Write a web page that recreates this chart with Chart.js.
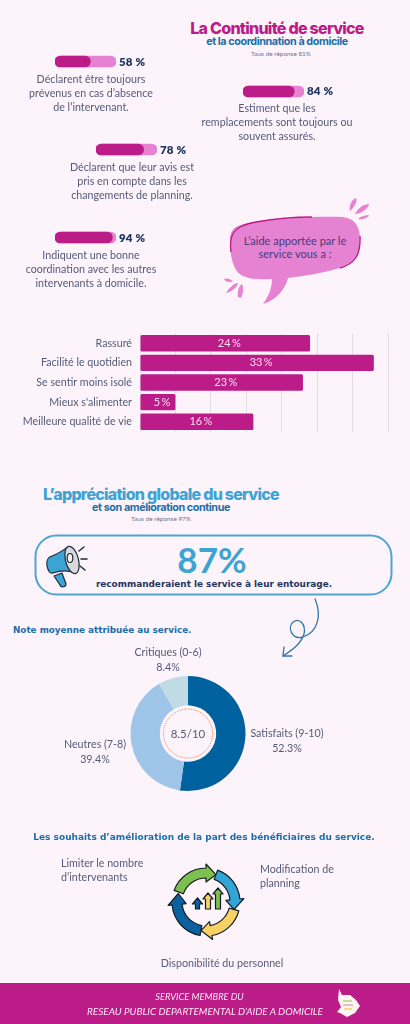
<!DOCTYPE html>
<html lang="fr"><head><meta charset="utf-8">
<script src="https://cdn.jsdelivr.net/npm/chart.js@4"></script>
<style>
html,body{margin:0;padding:0;background:#fdf3fb;}
#page{position:relative;width:410px;height:1024px;overflow:hidden;background:#fdf3fb;font-family:Lato,sans-serif;color:#3f4a6b;}
.t{position:absolute;white-space:nowrap;text-align:center;transform:translateX(-50%);}
.l{position:absolute;white-space:nowrap;}
.body{font-size:10.7px;line-height:14px;color:#535b79;}
.pct{position:absolute;font-weight:800;font-size:11.5px;color:#1d3560;letter-spacing:.2px;}
.cv{position:absolute;}
svg{position:absolute;left:0;top:0;}
</style></head><body><div id="page">
<svg id="deco" width="410" height="1024" viewBox="0 0 410 1024">
 <!-- speech bubble -->
 <path d="M230 240 C230 226 240 224 256 222 C285 218 320 216 342 217 C354 218 360 225 360 240 C360 258 354 264 340 268 C322 273 305 276 288 278 C285 290 276 300 263 304 C269 296 272 287 272 279 C255 280 240 279 235 268 C231 260 230 250 230 240Z" fill="#e582d2"/>
 <path d="M231 252 C229 236 232 226 256 222 C280 218 300 217 312 217 M360 236 C361 256 354 264 340 268" fill="none" stroke="#bc1c88" stroke-width="1.3"/>
 <path d="M350 211 C349 205 352 199 356 198 C358 201 354 208 350 211Z M355 214 C358 208 364 204 369 204 C369 208 361 214 355 214Z M358 219 C361 216 366 215 369 215 C368 218 362 220 358 219Z M233 281 C229 278 226 278 224 279 C225 282 230 283 233 281Z M226 293 C229 288 234 283 238 283 C238 286 232 292 226 293Z M238 297 C237 291 239 286 242 284 C244 288 243 294 241 298Z" fill="#e582d2"/>
 <!-- callout box -->
 <rect x="35.500" y="535.500" width="356" height="59" rx="21" fill="none" stroke="#4da6cf" stroke-width="2"/>
 <!-- megaphone -->
 <g stroke="#1c2b3d" stroke-width="1.200" stroke-linejoin="round" stroke-linecap="round">
  <path d="M54 576 L62 573 L66 584 C66 587 61 588 60 585 Z" fill="#3ba4d4"/>
  <path d="M47 566 C46 561 48 557 52 556 C60 553 66 548 68 547 L75 573 C68 570 62 570 53 573 C50 574 48 571 47 566Z" fill="#3ba4d4"/>
  <ellipse cx="72" cy="560" rx="6.500" ry="14" transform="rotate(-14 72 560)" fill="#d9d9d9"/>
  <ellipse cx="70" cy="558" rx="2.800" ry="4.500" fill="#f5f5f5"/>
  <path d="M79 551 L84 547 M81 559 L87 559 M80 566 L85 570" fill="none" stroke-width="1.500"/>
 </g>
 <!-- looped arrow -->
 <g fill="none" stroke="#2e76ae" stroke-width="1.300" stroke-linecap="round">
  <path d="M315 599 C322 615 318 632 303 637 C292 640 287 628 293 622 C300 617 306 625 304 634 C301 644 292 650 283 656"/>
  <path d="M283 656 L284 647 M283 656 L292 656"/>
 </g>
 <!-- cycle small arrows -->
 <g stroke="#111d26" stroke-width="1.200" stroke-linejoin="round">
  <path d="M195.500 909 L195.500 904 L192.500 904 L197.500 898 L202.500 904 L199.500 904 L199.500 909Z" fill="#0b619f"/>
  <path d="M205.500 909 L205.500 899 L203 899 L208 893 L213 899 L210.500 899 L210.500 909Z" fill="#f7d264"/>
  <path d="M215.500 909 L215.500 894 L213 894 L218 888 L223 894 L220.500 894 L220.500 909Z" fill="#7dc04e"/>
 </g>
 <!-- footer band -->
 <rect x="0" y="983" width="410" height="41" fill="#bc1c88"/>
 <path d="M339 989 L342 995 L350 995 L356 1000 L360 1006 L355 1013 L347 1017 L340 1013 L337 1012 L341 1007 L338 1000 Z" fill="#fdf6f0"/>
 <path d="M343 1001h9" stroke="#bcd27c" stroke-width="1.500"/><path d="M343 1005h10" stroke="#e9a6c8" stroke-width="1.500"/><path d="M344 1009h8" stroke="#f1d66c" stroke-width="1.500"/>
</svg>

<div class="t" style="left:277px;top:21px;font:800 16.100px/14px Inter,sans-serif;letter-spacing:-.78px;color:#bc1c88">La Continuité de service</div>
<div class="t" style="left:277px;top:36.500px;font:700 10.800px/10px Inter,sans-serif;letter-spacing:-.42px;color:#1c6ea8">et la coordinnation à domicile</div>
<div class="t" style="left:281px;top:50px;font-size:6.400px;line-height:8px;color:#6d7285">Taux de réponse 81%</div>

<canvas class="cv" id="p1" style="left:50px;top:51px"></canvas>
<canvas class="cv" id="p2" style="left:238px;top:81px"></canvas>
<canvas class="cv" id="p3" style="left:91px;top:139px"></canvas>
<canvas class="cv" id="p4" style="left:50px;top:227px"></canvas>
<div class="pct" style="left:119px;top:55px">58 %</div>
<div class="pct" style="left:307px;top:84px">84 %</div>
<div class="pct" style="left:160px;top:143px">78 %</div>
<div class="pct" style="left:119px;top:231px">94 %</div>

<div class="t body" style="left:91px;top:72px">Déclarent être toujours<br>prévenus en cas d’absence<br>de l’intervenant.</div>
<div class="t body" style="left:277px;top:101px">Estiment que les<br>remplacements sont toujours ou<br>souvent assurés.</div>
<div class="t body" style="left:132px;top:160px">Déclarent que leur avis est<br>pris en compte dans les<br>changements de planning.</div>
<div class="t body" style="left:91px;top:248px">Indiquent une bonne<br>coordination avec les autres<br>intervenants à domicile.</div>
<div class="t body" style="left:295px;top:234px;font-size:11px;line-height:13px;color:#4a3a78">L’aide apportée par le<br>service vous a :</div>

<canvas class="cv" id="bars" style="left:0;top:319px"></canvas>

<div class="t" style="left:161px;top:487px;font:800 16px/14px Inter,sans-serif;letter-spacing:-.74px;color:#3ba4d4">L’appréciation globale du service</div>
<div class="t" style="left:161px;top:503px;font:700 10.800px/10px Inter,sans-serif;letter-spacing:-.42px;color:#1c6ea8">et son amélioration continue</div>
<div class="t" style="left:161px;top:514.500px;font-size:6.400px;line-height:7px;color:#6d7285">Taux de réponse 97%</div>
<div class="t" style="left:212px;top:539px;font:700 35px/40px Lato,sans-serif;color:#3ba4d4">87%</div>
<div class="t" style="left:214px;top:578px;font:800 8.900px/12px 'DejaVu Sans',sans-serif;color:#1d3560">recommanderaient le service à leur entourage.</div>

<div class="l" style="left:13px;top:623px;font:800 8.800px/14px 'DejaVu Sans',sans-serif;color:#1c6ea8">Note moyenne attribuée au service.</div>
<canvas class="cv" id="donut" style="left:120px;top:665px"></canvas>
<svg width="410" height="1024"><circle cx="188" cy="733.500" r="24.500" fill="none" stroke="#ee7b4a" stroke-width="1" stroke-dasharray="1.200 1.200"/></svg>
<div class="t" style="left:188px;top:726px;font-size:11.500px;line-height:15px;color:#535b79">8.5/10</div>
<div class="t body" style="left:168px;top:645px;line-height:14.500px">Critiques (0-6)<br>8.4%</div>
<div class="t body" style="left:287px;top:726px;line-height:14.500px">Satisfaits (9-10)<br>52.3%</div>
<div class="t body" style="left:95px;top:737px;line-height:14.500px">Neutres (7-8)<br>39.4%</div>

<div class="t" style="left:204px;top:830px;font:800 9px/14px 'DejaVu Sans',sans-serif;color:#1c6ea8">Les souhaits d’amélioration de la part des bénéficiaires du service.</div>
<div class="l body" style="left:61px;top:856px">Limiter le nombre<br>d’intervenants</div>
<div class="l body" style="left:260px;top:862px">Modification de<br>planning</div>
<div class="t body" style="left:222px;top:956px">Disponibilité du personnel</div>

<div class="t" style="left:199.500px;top:990px;font-style:italic;font-size:9.300px;line-height:14px;color:#fbe6f5">SERVICE MEMBRE DU</div>
<div class="t" style="left:205px;top:1004px;font-style:italic;font-size:10px;line-height:14px;color:#fbe6f5">RESEAU PUBLIC DEPARTEMENTAL D’AIDE A DOMICILE</div>
</div>
<script>
// ---- data ----
const benefitValues = [24, 33, 23, 5, 16];
const benefitLabels = ["Rassuré", "Facilité le quotidien", "Se sentir moins isolé", "Mieux s'alimenter", "Meilleure qualité de vie"];
const progressValues = [58, 84, 78, 94];
const progressIds = ["p1", "p2", "p3", "p4"];
const npsLabels = ["Satisfaits (9-10)", "Neutres (7-8)", "Critiques (0-6)"];
const npsValues = [52.3, 39.4, 8.4];
const npsColors = ["#00619f", "#9fc5e8", "#bfdbe4"];

// decorative cycle icon
(function () {
  const cx = 206, cy = 902, ro = 34, ri = 24;
  const pt = (deg, r) => { const a = deg * Math.PI / 180; return (cx + r * Math.sin(a)).toFixed(1) + " " + (cy - r * Math.cos(a)).toFixed(1); };
  const icon = [[290, 360, 380, "#7dc04e"], [20, 85, 105, "#33a4d6"], [105, 170, 190, "#f7d264"], [190, 265, 287, "#0b619f"]];
  const svg = document.getElementById("deco");
  icon.forEach(([a, b, tip, col]) => {
    const p = document.createElementNS("http://www.w3.org/2000/svg", "path");
    p.setAttribute("d", `M${pt(a, ro)} A${ro} ${ro} 0 0 1 ${pt(b, ro)} L${pt(b, ro + 4)} L${pt(tip, (ro + ri) / 2)} L${pt(b, ri - 4)} L${pt(b, ri)} A${ri} ${ri} 0 0 0 ${pt(a, ri)}Z`);
    p.setAttribute("fill", col); p.setAttribute("stroke", "#111d26"); p.setAttribute("stroke-width", "1.2"); p.setAttribute("stroke-linejoin", "round");
    svg.appendChild(p);
  });
})();

Chart.defaults.animation = false;
Chart.defaults.responsive = false;
Chart.defaults.devicePixelRatio = 1;
Chart.defaults.font.family = "Lato, sans-serif";
const noPlugins = {legend:{display:false}, tooltip:{enabled:false}};

// progress pills
progressIds.forEach((id, i) => {
  const c = document.getElementById(id); c.width = 71; c.height = 21;
  new Chart(c, {
    type: "bar",
    data: { labels: [""], datasets: [
      { data: [progressValues[i]], backgroundColor: "#bc1c88", borderRadius: 6, borderSkipped: false, order: 1, barThickness: 11 },
      { data: [100], backgroundColor: "#e582d2", borderRadius: 6, borderSkipped: false, order: 2, barThickness: 11 }
    ]},
    options: { indexAxis: "y", layout: {padding: {left:5, right:5, top:3, bottom:3}}, plugins: noPlugins,
      scales: { x: {display:false, min:0, max:100}, y: {display:false, stacked:true} } }
  });
});

// value labels inside the bars
const insideLabels = { id: "insideLabels", afterDatasetsDraw(chart) {
  const ctx = chart.ctx, meta = chart.getDatasetMeta(0);
  ctx.save(); ctx.fillStyle = "#f8dcf0"; ctx.font = "11px Lato, sans-serif";
  ctx.textAlign = "center"; ctx.textBaseline = "middle";
  meta.data.forEach((b, i) => ctx.fillText(benefitValues[i] + "\u2009%", (b.x + b.base) / 2 + 4, b.y));
  ctx.restore();
}};

const bc = document.getElementById("bars"); bc.width = 410; bc.height = 127;
new Chart(bc, {
  type: "bar",
  data: { labels: benefitLabels, datasets: [{ data: benefitValues, backgroundColor: "#bc1c88", borderRadius: 1.5, borderSkipped: false, categoryPercentage: 1, barPercentage: 0.83 }]},
  options: { indexAxis: "y", layout: {padding: {left:0, right:22, top:4, bottom:4}},
    plugins: noPlugins,
    scales: {
      x: { min:0, max:35, afterFit(s){s.height=0;}, ticks:{display:false, stepSize:5}, border:{display:false}, grid:{color:"#e3dbe3", lineWidth:1, drawTicks:false} },
      y: { afterFit(s){s.width=140;}, border:{display:false}, grid:{display:false, drawTicks:false}, ticks:{color:"#535b79", font:{size:10.7}, padding:8} }
    }},
  plugins: [insideLabels]
});

const dc = document.getElementById("donut"); dc.width = 136; dc.height = 137;
new Chart(dc, {
  type: "doughnut",
  data: { labels: npsLabels, datasets: [{ data: npsValues, backgroundColor: npsColors, borderWidth: 0 }]},
  options: { cutout: "49%", radius: 57.5, layout:{padding:0}, plugins: noPlugins }
});
</script></body></html>
